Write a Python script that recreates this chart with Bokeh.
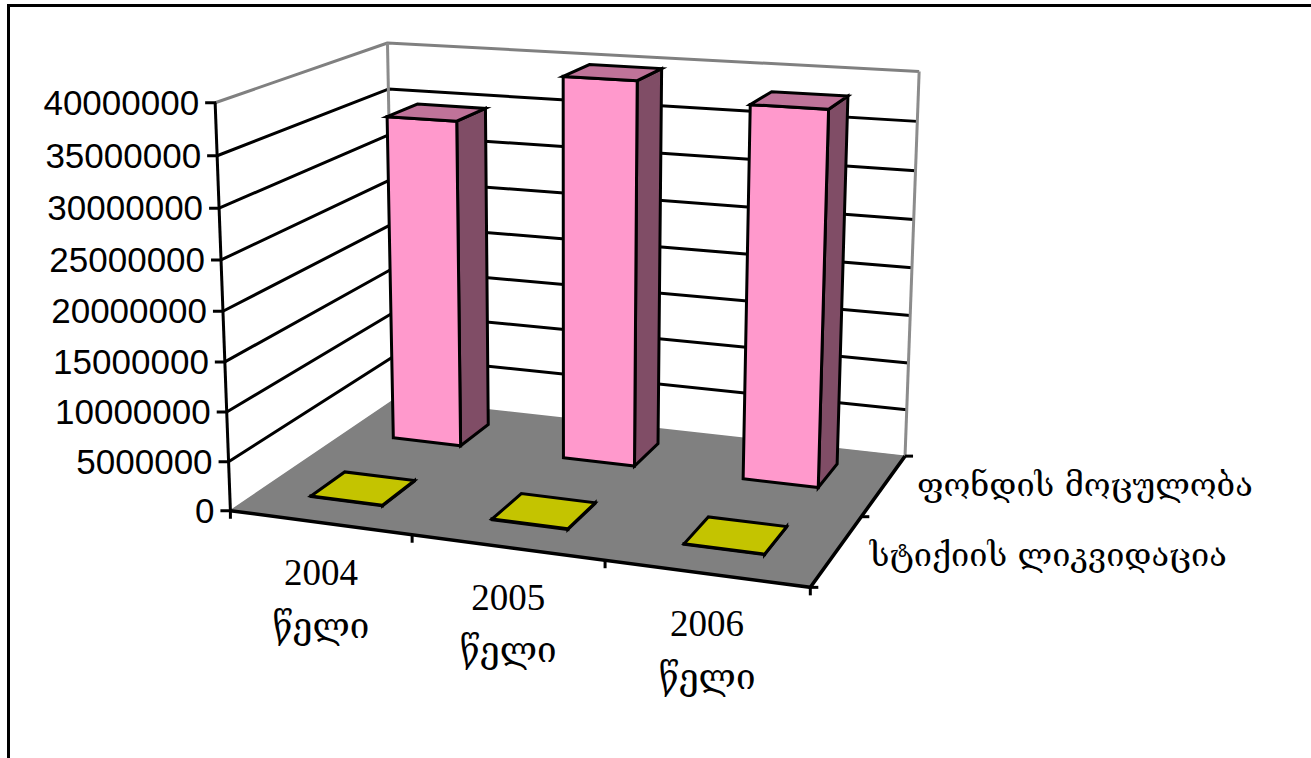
import numpy as np
from bokeh.plotting import figure
from bokeh.models import Range1d
from bokeh.core.properties import value
from bokeh.embed import file_html
from bokeh.resources import INLINE

# ---- data ----
years = ["2004", "2005", "2006"]
year_word = ["წელი", "წელი", "წელი"]
series_names = ["სტიქიის ლიკვიდაცია", "ფონდის მოცულობა"]
stock_liquidation = [60000, 70000, 50000]
fund_volume = [34500000, 39700000, 38000000]
value_ticks = [0, 5000000, 10000000, 15000000, 20000000, 25000000, 30000000, 35000000, 40000000]
value_labels = ["0", "5000000", "10000000", "15000000", "20000000", "25000000", "30000000", "35000000", "40000000"]

# ---- pseudo-3D camera: (category, depth, value) -> page position ----
CAL = [((0, 0, 0), (230, 510), 4), ((3, 0, 0), (810, 590), 1), ((3, 2, 0), (905, 452), 1), ((0, 2, 0), (392, 403), 1),
       ((0, 0, 4e7), (213, 103), 1), ((0, 2, 4e7), (389, 41), 1), ((3, 2, 4e7), (918, 72), 1)]
A = []
b = []
for (u, w, v), (x, y), wt in CAL:
    V = v / 1e7
    A.append([wt * c for c in [u, w, V, 1, 0, 0, 0, 0, -x * u, -x * w, -x * V]])
    b.append(wt * x)
    A.append([wt * c for c in [0, 0, 0, 0, u, w, V, 1, -y * u, -y * w, -y * V]])
    b.append(wt * y)
P = np.linalg.lstsq(np.array(A, float), np.array(b, float), rcond=None)[0]


def proj(u, w, v):
    V = v / 1e7
    d = P[8] * u + P[9] * w + P[10] * V + 1
    return (P[0] * u + P[1] * w + P[2] * V + P[3]) / d, (P[4] * u + P[5] * w + P[6] * V + P[7]) / d


def poly(points):
    q = [proj(*c) for c in points]
    return [a for a, _ in q], [c for _, c in q]


W, H = 1311, 758
p = figure(width=W, height=H, x_range=Range1d(0, W), y_range=Range1d(H, 0), x_axis_type=None, y_axis_type=None,
           toolbar_location=None, output_backend="svg", min_border=0, outline_line_color=None,
           background_fill_color="white", styles={"position": "absolute", "left": "0px", "top": "0px"})
p.grid.visible = False

# outer frame
p.line([8, 8, W + 5], [H + 5, 5, 5], line_color="black", line_width=3, line_join="miter")

umax, wmax, vmax = 3, 2, value_ticks[-1]
LW = 3
# floor
fx, fy = poly([(0, 0, 0), (umax, 0, 0), (umax, wmax, 0), (0, wmax, 0)])
p.patch(fx, fy, fill_color="#808080", line_color="#808080", line_width=1.5)
# gridlines on the walls
for t in value_ticks[1:]:
    gx, gy = poly([(0, 0, t), (0, wmax, t), (umax, wmax, t)])
    col = "#808080" if t == vmax else "black"
    p.line(gx, gy, line_color=col, line_width=LW)
# wall edges in gray
for seg in ([(0, wmax, 0), (0, wmax, vmax)], [(umax, wmax, 0), (umax, wmax, vmax)]):
    gx, gy = poly(seg)
    p.line(gx, gy, line_color="#8c8c8c", line_width=LW)
# axes lines
gx, gy = poly([(0, 0, 0), (0, 0, vmax)])
p.line(gx, gy, line_color="black", line_width=LW)
gx, gy = poly([(0, 0, 0), (umax, 0, 0), (umax, wmax, 0)])
p.line(gx, gy, line_color="black", line_width=LW + 0.5, line_join="miter")
# ticks
for t in value_ticks:
    x, y = proj(0, 0, t)
    p.line([x - 10, x + 1], [y, y], line_color="black", line_width=LW)
for i in range(0, umax + 1):
    x, y = proj(i, 0, 0)
    p.line([x, x], [y, y + 8], line_color="black", line_width=LW)
for j in range(0, wmax + 1):
    x, y = proj(umax, j, 0)
    p.line([x, x + 8], [y, y], line_color="black", line_width=LW)


def bar(i, j, val, front, top, side):
    u0, u1 = i + 0.288, i + 0.69
    w0, w1 = j + (0.33 if j == 0 else 0.35), j + (0.73 if j == 0 else 0.75)
    fa = [(u0, w0, 0), (u1, w0, 0), (u1, w0, val), (u0, w0, val)]
    si = [(u1, w0, 0), (u1, w1, 0), (u1, w1, val), (u1, w0, val)]
    to = [(u0, w0, val), (u1, w0, val), (u1, w1, val), (u0, w1, val)]
    for pts, col in ((si, side), (fa, front), (to, top)):
        a, c = poly(pts)
        p.patch(a, c, fill_color=col, line_color="black", line_width=LW, line_join="miter")


for i, val in enumerate(stock_liquidation):
    bar(i, 0, val, "#FFFF00", "#C4C400", "#808000")
for i, val in enumerate(fund_volume):
    bar(i, 1, val, "#FF99CC", "#BF7399", "#804D66")

# value labels
vx = []
vy = []
for t in value_ticks:
    x, y = proj(0, 0, t)
    vx.append(x - 16)
    vy.append(y)
p.text(vx, vy, text=value_labels, text_font=value("Liberation Sans"), text_font_size="35px",
       text_align="right", text_baseline="middle", text_color="black")

# category labels
cx, cy, wx, wy = [], [], [], []
for i in range(len(years)):
    x, y = proj(i + 0.5, 0, 0)
    cx.append(x + 1)
    cy.append(y + 50)
    wx.append(x + 1)
    wy.append(y + 103)
p.text(cx, cy, text=years, text_font=value("Liberation Serif"), text_font_size="37px",
       text_align="center", text_baseline="middle", text_color="black")
p.text(wx, wy, text=year_word, text_font=value("DejaVu Serif"), text_font_size="35px",
       text_align="center", text_baseline="middle", text_color="black")

# series labels
sx, sy = [], []
for j in range(len(series_names)):
    x, y = proj(umax, j + 0.5, 0)
    sx.append(x + 33)
    sy.append(y + 4 - 4 * j)
p.text(sx, sy, text=series_names, text_font=value("DejaVu Serif"), text_font_size="32.5px",
       text_align="left", text_baseline="middle", text_color="black")

open("out.html", "w").write(file_html(p, INLINE))
